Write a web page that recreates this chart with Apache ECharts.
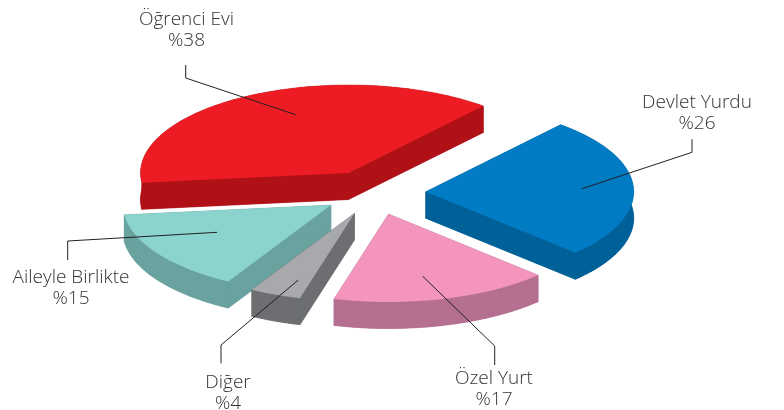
<!DOCTYPE html>
<html><head><meta charset="utf-8">
<style>html,body{margin:0;padding:0;background:#fff}#c{width:784px;height:410px}</style>
<script src="https://cdn.jsdelivr.net/npm/echarts@6/dist/echarts.min.js"></script>
</head><body><div id="c"></div>
<script>
// Data
const categories = ['Öğrenci Evi', 'Devlet Yurdu', 'Özel Yurt', 'Diğer', 'Aileyle Birlikte'];
const shares = [38, 26, 17, 4, 15];
// Styles
const topColors = ['#ed1c24', '#007bc4', '#f495bd', '#a7a9ac', '#8bd3cd'];
const wallColors = ['#b01116', '#006098', '#b46f91', '#6d6e71', '#69a29e'];
// Layout
const apexes = [[348.5, 173], [425.7, 191.7], [388.5, 214], [354.5, 213.3], [331, 205]];
const leaders = [
  [[185.7, 65], [185.7, 78], [295.7, 114.7]],
  [[692, 139.3], [692, 152.3], [582, 188.7]],
  [[494.7, 365], [494.7, 346], [422.7, 276.3]],
  [[221, 363.3], [221, 345], [298.3, 280]],
  [[67.7, 260], [67.7, 241], [217, 232.3]]
];
const labelPos = [[186.5, 20], [697, 103], [494, 379], [228, 383], [71, 278]];
const RX = 208, RY = 88, DEPTH = 26.5, START = 186.4, LINE_H = 21;
const drawOrder = [0, 1, 4, 3, 2];
const total = shares.reduce((a, b) => a + b, 0);

function arcPoints(i) {
  let a0 = START;
  for (let k = 0; k < i; k++) a0 -= shares[k] / total * 360;
  const a1 = a0 - shares[i] / total * 360, pts = [], n = 80;
  for (let s = 0; s <= n; s++) {
    const t = (a0 + (a1 - a0) * s / n) * Math.PI / 180;
    pts.push([apexes[i][0] + RX * Math.cos(t), apexes[i][1] - RY * Math.sin(t)]);
  }
  return pts;
}
const down = p => [p[0], p[1] + DEPTH];

function renderSlice(params) {
  const i = drawOrder[params.dataIndex];
  const arc = arcPoints(i), apex = apexes[i];
  const top = [apex].concat(arc);
  const fillW = { fill: wallColors[i], stroke: wallColors[i], lineWidth: 0.4 };
  const first = arc[0], last = arc[arc.length - 1];
  return {
    type: 'group',
    children: [
      { type: 'polygon', shape: { points: top.map(down) }, style: fillW },
      { type: 'polygon', shape: { points: arc.concat(arc.slice().reverse().map(down)) }, style: fillW },
      { type: 'polygon', shape: { points: [apex, first, down(first), down(apex)] }, style: fillW },
      { type: 'polygon', shape: { points: [apex, last, down(last), down(apex)] }, style: fillW },
      { type: 'polygon', shape: { points: top }, style: { fill: topColors[i] } }
    ]
  };
}
function renderLabel(params) {
  const i = params.dataIndex;
  return {
    type: 'group',
    children: [
      { type: 'polyline', shape: { points: leaders[i] }, style: { fill: 'none', stroke: '#231f20', lineWidth: 1 } },
      { type: 'text', style: {
          x: labelPos[i][0], y: labelPos[i][1] - LINE_H / 2,
          text: categories[i] + '\n%' + shares[i],
          textAlign: 'center', verticalAlign: 'top',
          fill: '#333335', font: '300 19px "Open Sans"', lineHeight: LINE_H
      } }
    ]
  };
}
const chart = echarts.init(document.getElementById('c'), null, { renderer: 'canvas' });
chart.setOption({
  animation: false,
  backgroundColor: '#fff',
  series: [
    { type: 'custom', coordinateSystem: 'none', silent: true, z: 2, renderItem: renderSlice,
      data: drawOrder.map(i => ({ name: categories[i], value: shares[i] })) },
    { type: 'custom', coordinateSystem: 'none', silent: true, z: 3, renderItem: renderLabel,
      data: categories.map((n, i) => ({ name: n, value: shares[i] })) }
  ]
});
</script></body></html>
